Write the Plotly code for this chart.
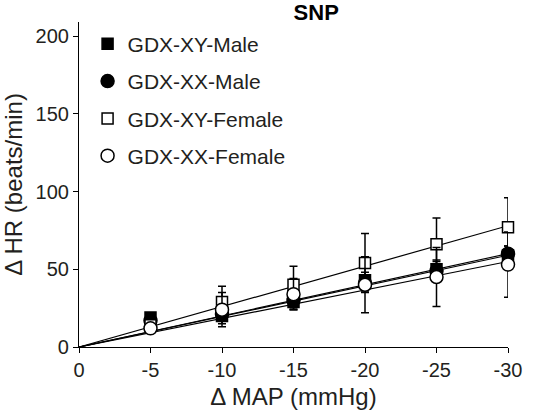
import plotly.graph_objects as go

map_change = [-5, -10, -15, -20, -25, -30]

xy_male = [19, 20, 29, 43, 50, 59]
xy_male_err = [3, 5, 5, 5, 6, 6]
xx_male = [17, 21, 30, 41, 49, 60]
xx_male_err = [3, 4, 5, 5, 6, 5]
xy_female = [14, 29, 40, 54, 66, 77]
xy_female_err = [3, 10, 12, 19, 17, 19]
xx_female = [12, 24, 34, 40, 45, 53]
xx_female_err = [2, 11, 10, 18, 19, 21]

fit_x = [0, -30]
fit_xy_male = [0, 59]
fit_xx_male = [0, 60]
fit_xy_female = [0, 78]
fit_xx_female = [0, 55]

x_tickvals = [0, -5, -10, -15, -20, -25, -30]
x_ticktext = ["0", "-5", "-10", "-15", "-20", "-25", "-30"]
y_tickvals = [0, 50, 100, 150, 200]

FONT = "Liberation Sans, Arial, sans-serif"

series = [
    ("GDX-XY-Male", xy_male, xy_male_err, fit_xy_male, "square", "black", 11),
    ("GDX-XX-Male", xx_male, xx_male_err, fit_xx_male, "circle", "black", 13),
    ("GDX-XY-Female", xy_female, xy_female_err, fit_xy_female, "square", "white", 11),
    ("GDX-XX-Female", xx_female, xx_female_err, fit_xx_female, "circle", "white", 13),
]

fig = go.Figure()
for name, y, e, fit, sym, fill, size in series:
    fig.add_trace(go.Scatter(x=fit_x, y=fit, mode="lines",
                             line=dict(color="black", width=1.2),
                             showlegend=False, hoverinfo="skip", cliponaxis=False))
for i, (name, y, e, fit, sym, fill, size) in enumerate(series):
    fig.add_trace(go.Scatter(
        x=map_change, y=y, mode="markers", name=name,
        legendgroup=str(i),
        marker=dict(symbol=sym, size=size, color=fill,
                    line=dict(color="black", width=1.5)),
        error_y=dict(type="data", array=e, color="black", thickness=1.5, width=4),
        cliponaxis=False,
    ))

fig.update_layout(
    width=550, height=414,
    margin=dict(l=79, r=42, t=22, b=67),
    paper_bgcolor="white", plot_bgcolor="white",
    font=dict(family=FONT, size=20, color="#231f20"),
    title=dict(text="<b>SNP</b>", x=0.553, xref="paper", xanchor="center",
               y=0.988, yanchor="top",
               font=dict(size=22, family=FONT, color="black")),
    showlegend=True,
    legend=dict(x=0.02, y=0.995, xanchor="left", yanchor="top",
                bgcolor="rgba(0,0,0,0)", font=dict(size=21, family=FONT),
                tracegroupgap=7, itemwidth=30),
    xaxis=dict(range=[0, -30], tickvals=x_tickvals, ticktext=x_ticktext,
               ticks="outside", ticklen=5, tickwidth=1.2, tickcolor="black",
               showline=True, linecolor="black", linewidth=1.2,
               showgrid=False, zeroline=False, automargin=False,
               title=dict(text="Δ MAP (mmHg)", standoff=8)),
    yaxis=dict(range=[0, 209], tickvals=y_tickvals,
               ticks="outside", ticklen=5, tickwidth=1.2, tickcolor="black",
               showline=True, linecolor="black", linewidth=1.2,
               showgrid=False, zeroline=False, automargin=False,
               title=dict(text="Δ HR (beats/min)", standoff=6)),
)

fig.write_html("out.html", config={"displayModeBar": False},
               post_script="document.body.style.margin='0';")
